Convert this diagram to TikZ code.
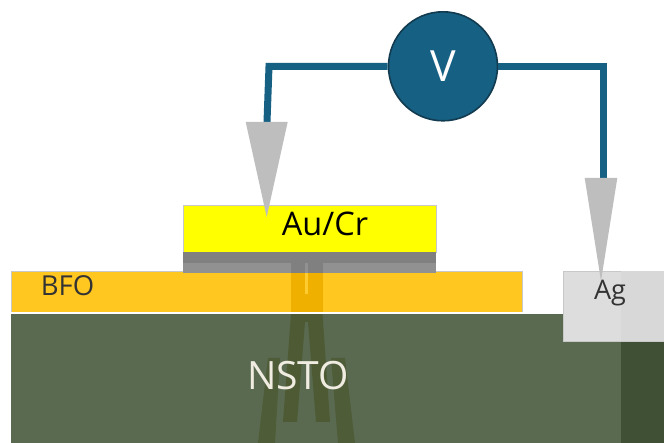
\documentclass[tikz,border=0pt]{standalone}
\usepackage{fontspec}
\setmainfont{Open Sans}
\definecolor{wire}{HTML}{166083}
\definecolor{wireb}{HTML}{123B50}
\definecolor{tip}{HTML}{BEBEBE}
\definecolor{nsto}{HTML}{5A6A50}
\definecolor{nstod}{HTML}{3F5035}
\definecolor{bfo}{HTML}{FFC720}
\definecolor{bfol}{HTML}{FFCC30}
\definecolor{cr}{HTML}{808080}
\definecolor{crl}{HTML}{919191}
\definecolor{ag}{HTML}{DDDDDD}
\definecolor{agd}{HTML}{D8D8D8}
\definecolor{path}{HTML}{4D5A33}
\definecolor{pathf}{HTML}{4F5C38}
\definecolor{pathb}{HTML}{EFB000}
\definecolor{pureyellow}{HTML}{FFFF00}
\definecolor{edge}{HTML}{C8C8C8}
\definecolor{cream}{HTML}{F0ECE2}
\definecolor{ink}{HTML}{333333}
\tikzset{
 layer/.style={inner sep=0pt,outer sep=0pt,anchor=north west},
 wireline/.style={draw=wire,line width=7pt,line join=miter},
 probe/.style={fill=tip,draw=none},
 lbl/.style={inner sep=0pt}
}
\begin{document}
\begin{tikzpicture}[x=1pt,y=-1pt]
\useasboundingbox (0,0) rectangle (664,443);
\fill[white] (0,0) rectangle (664,443);
% substrate
\fill[nsto] (11,314) rectangle (664,443);
\fill[nstod] (621,314) rectangle (664,443);
% filaments
\fill[path] (291,314) -- (322.5,314) -- (330,422) -- (316,422) -- (308,322) -- (305,322) -- (297,422) -- (283,422) -- cycle;
\fill[pathf] (268,358) -- (280,358) -- (275,443) -- (258,443) -- cycle;
\fill[pathf] (331,358) -- (345,358) -- (355,443) -- (338,443) -- cycle;
% BFO
\node[layer,fill=bfo,draw=edge,line width=0.5pt,minimum width=511.5pt,minimum height=41pt] (bfo) at (11,271) {};
\fill[pathb] (291,271) rectangle (322.5,312);
\fill[bfol] (305,271) rectangle (308.3,294);
\fill[white] (11,312.3) rectangle (523,314);
% electrodes
\node[layer,fill=pureyellow,draw=edge,line width=0.5pt,minimum width=252.5pt,minimum height=47pt] (au) at (183.3,205) {};
\node[layer,fill=cr,minimum width=253pt,minimum height=11pt] (cr) at (183,252) {};
\node[layer,fill=crl,minimum width=253pt,minimum height=10pt] (crb) at (183,263) {};
\fill[cr] (291,263) rectangle (322.5,273);
\fill[crl] (305,263) rectangle (308.3,273);
\node[layer,fill=ag,draw=edge,line width=0.5pt,minimum width=101pt,minimum height=70pt] (ag) at (563,271) {};
\fill[agd] (621,271.3) rectangle (664,340.7);
% voltmeter
\node[circle,fill=wire,draw=wireb,line width=1.6pt,minimum size=109pt,inner sep=0pt,text=white,font=\fontsize{43}{48}\selectfont] (v) at (443,66.3) {V};
\coordinate (l) at (267,122);
\coordinate (r) at (603,178);
\draw[wireline] (v.west) -- (269,66.3) -- (l);
\draw[wireline] (v.east) -- (603,66.3) -- (r);
\fill[probe] (245.7,122) -- (287.7,122) -- (266.7,217) -- cycle;
\fill[probe] (584.7,178) -- (617.3,178) -- (601,281) -- cycle;
% labels
\node[lbl,font=\fontsize{32.5}{36}\selectfont] at (325,224) {Au/Cr};
\node[lbl,text=ink,font=\fontsize{27.5}{30}\selectfont] at (67.5,286) {BFO};
\node[lbl,text=ink,font=\fontsize{27}{30}\selectfont] at (610,293.5) {Ag};
\node[lbl,text=cream,font=\fontsize{39}{42}\selectfont] at (298,376) {NSTO};
\end{tikzpicture}
\end{document}
